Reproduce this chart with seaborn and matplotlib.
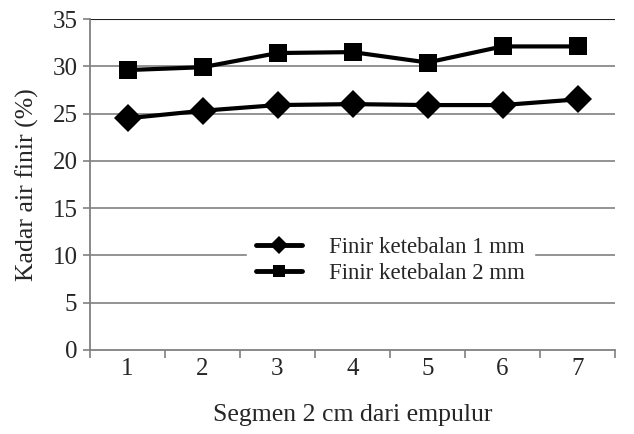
import matplotlib
matplotlib.use("Agg")
import matplotlib.pyplot as plt
import seaborn as sns
import pandas as pd

segments = [1, 2, 3, 4, 5, 6, 7]
finir_1mm = [24.5, 25.3, 25.9, 26.0, 25.9, 25.9, 26.5]
finir_2mm = [29.6, 29.9, 31.4, 31.5, 30.4, 32.1, 32.1]
labels = ["Finir ketebalan 1 mm", "Finir ketebalan 2 mm"]
yticks = [0, 5, 10, 15, 20, 25, 30, 35]

sns.set_theme(style="white")
plt.rcParams['font.family'] = ['Liberation Serif', 'DejaVu Serif']

df = pd.DataFrame({
    "Segmen": segments * 2,
    "Kadar": finir_1mm + finir_2mm,
    "Seri": [labels[0]] * 7 + [labels[1]] * 7,
})

fig = plt.figure(figsize=(6.34, 4.34), dpi=100)
ax = fig.add_axes([90/634, (434-350)/434, 525/634, 331/434])

sns.lineplot(data=df, x="Segmen", y="Kadar", hue="Seri", style="Seri",
             markers={labels[0]: "D", labels[1]: "s"}, dashes=False,
             palette={labels[0]: "black", labels[1]: "black"},
             markersize=14, linewidth=3, ax=ax, legend=True,
             markeredgewidth=0, zorder=5)
ax.lines[0].set_markersize(14)
ax.lines[1].set_markersize(13.5)

ax.set_xlim(0.5, 7.5)
ax.set_ylim(0, 35)
ax.set_yticks(yticks)
ax.set_yticklabels([str(t) for t in yticks], fontsize=18)
ax.set_xticks(segments)
ax.set_xticklabels([str(s) for s in segments], fontsize=18)
ax.set_xticks([0.5 + i for i in range(8)], minor=True)
ax.tick_params(axis='x', which='major', length=0, pad=6)
ax.tick_params(axis='x', which='minor', length=6, width=1.2, color='#808080', direction='out', bottom=True)
ax.tick_params(axis='y', length=5, width=1.2, color='#808080', direction='out', left=True, pad=4)
for y in yticks[1:-1]:
    ax.axhline(y, color='#808080', linewidth=1.2, zorder=1)
ax.axhline(35, color='#202020', linewidth=1.5, zorder=1)
for s in ['top', 'right']:
    ax.spines[s].set_visible(False)
ax.spines['left'].set_color('#808080')
ax.spines['bottom'].set_color('#808080')
ax.spines['left'].set_linewidth(1.3)
ax.spines['bottom'].set_linewidth(1.3)

ax.set_xlabel("Segmen 2 cm dari empulur", fontsize=18.5, labelpad=1)
ax.xaxis.set_label_coords(0.5, -0.163)
ax.set_ylabel("Kadar air finir (%)", fontsize=18.5, labelpad=10)

leg = ax.legend(loc='center', bbox_to_anchor=(0.572, 0.27), frameon=True,
                fontsize=16.5, handlelength=2.0, labelspacing=0.2,
                borderpad=0.4, handletextpad=1.2)
leg.get_frame().set_facecolor('white')
leg.get_frame().set_edgecolor('white')
leg.get_frame().set_alpha(1)
leg.set_zorder(10)
for h in leg.get_lines():
    h.set_markersize(9)
    h.set_linewidth(3.5)

fig.savefig("out.png", dpi=100)
